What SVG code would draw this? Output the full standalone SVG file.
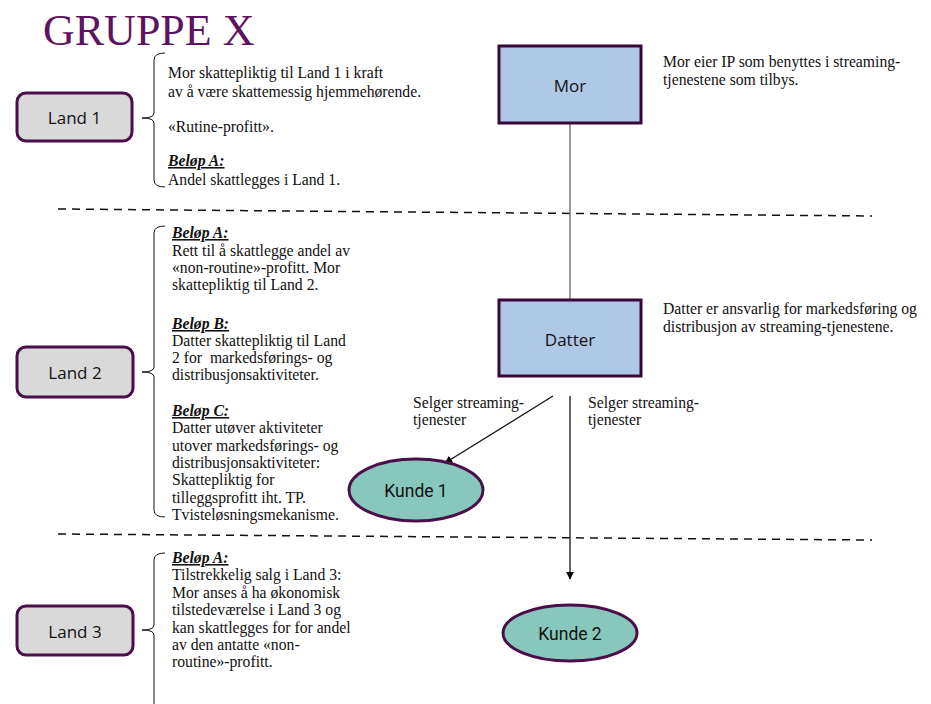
<svg xmlns="http://www.w3.org/2000/svg" width="931" height="704" viewBox="0 0 931 704">
<defs>
<marker id="ah" viewBox="0 0 10 10" refX="9" refY="5" markerWidth="8" markerHeight="8" markerUnits="userSpaceOnUse" orient="auto">
<path d="M0,0 L10,5 L0,10 Z" fill="#000"/>
</marker>
<style>
.t{font-family:"Liberation Serif","Times New Roman",serif;font-size:15.7px;fill:#111}
.s{font-family:"Liberation Serif","Times New Roman",serif;font-size:15.7px;fill:#111}
.b{font-weight:bold;font-style:italic;text-decoration:underline}
.land{fill:#d9d9d9;stroke:#4a0e48;stroke-width:3}
.box{fill:#b0c8e8;stroke:#3a0838;stroke-width:3}
.kunde{fill:#88c8bc;stroke:#4a0e48;stroke-width:3}
.lbl{font-family:"Open Sans","Liberation Sans",sans-serif;font-size:17px;fill:#111;text-anchor:middle;dominant-baseline:central}
.klbl{font-family:Roboto,"Liberation Sans",sans-serif;font-size:17.5px;fill:#111;text-anchor:middle;dominant-baseline:central}
.brace{fill:none;stroke:#111;stroke-width:1}
.dash{stroke:#111;stroke-width:1.5;stroke-dasharray:8,6;fill:none}
</style>
</defs>
<rect width="931" height="704" fill="#fff"/>
<text x="43" y="45" font-family="Liberation Serif,serif" font-size="44" fill="#5e1360">GRUPPE X</text>

<g id="dividers">
<path class="dash" d="M58,209 L872,216"/>
<path class="dash" d="M58,534 L872,540"/>
</g>

<g id="land1">
<rect class="land" x="17" y="93" width="115" height="48" rx="9"/>
<text class="lbl" x="74.5" y="117">Land 1</text>
<path class="brace" d="M165,53 Q154,53 154,60 L154,113 Q154,118 142,118 Q154,118 154,123 L154,180 Q154,187 165,187"/>
<text class="t" x="168" y="78">Mor skattepliktig til Land 1 i kraft</text>
<text class="t" x="168" y="97">av å være skattemessig hjemmehørende.</text>
<text class="t" x="168" y="132">«Rutine-profitt».</text>
<text class="t b" x="168" y="166">Beløp A:</text>
<text class="t" x="168" y="185">Andel skattlegges i Land 1.</text>
</g>

<g id="land2">
<rect class="land" x="17" y="347" width="116" height="50" rx="9"/>
<text class="lbl" x="75" y="372">Land 2</text>
<path class="brace" d="M165,226 Q154,226 154,233 L154,367 Q154,372 142,372 Q154,372 154,377 L154,510 Q154,517 165,517"/>
<g class="t">
<text class="b" x="172" y="238">Beløp A:</text>
<text x="172" y="256">Rett til å skattlegge andel av</text>
<text x="172" y="273">«non-routine»-profitt. Mor</text>
<text x="172" y="290">skattepliktig til Land 2.</text>
<text class="b" x="172" y="329">Beløp B:</text>
<text x="172" y="346">Datter skattepliktig til Land</text>
<text x="172" y="363" xml:space="preserve">2 for  markedsførings- og</text>
<text x="172" y="380">distribusjonsaktiviteter.</text>
<text class="b" x="172" y="416">Beløp C:</text>
<text x="172" y="433">Datter utøver aktiviteter</text>
<text x="172" y="451">utover markedsførings- og</text>
<text x="172" y="468">distribusjonsaktiviteter:</text>
<text x="172" y="485">Skattepliktig for</text>
<text x="172" y="503">tilleggsprofitt iht. TP.</text>
<text x="172" y="520">Tvisteløsningsmekanisme.</text>
</g>
</g>

<g id="land3">
<rect class="land" x="17" y="606" width="116" height="49" rx="9"/>
<text class="lbl" x="75" y="631">Land 3</text>
<path class="brace" d="M165,553 Q154,553 154,560 L154,625 Q154,630 142,630 Q154,630 154,635 L154,704"/>
<g class="t">
<text class="b" x="172" y="563">Beløp A:</text>
<text x="172" y="580">Tilstrekkelig salg i Land 3:</text>
<text x="172" y="598">Mor anses å ha økonomisk</text>
<text x="172" y="615">tilstedeværelse i Land 3 og</text>
<text x="172" y="633">kan skattlegges for for andel</text>
<text x="172" y="650">av den antatte «non-</text>
<text x="172" y="667">routine»-profitt.</text>
</g>
</g>

<g id="connectors">
<line x1="570" y1="124" x2="570" y2="299" stroke="#777" stroke-width="1.5"/>
<line x1="553" y1="396" x2="445" y2="463" stroke="#111" stroke-width="1.3" marker-end="url(#ah)"/>
<line x1="570" y1="396" x2="570" y2="579" stroke="#333" stroke-width="1.5" marker-end="url(#ah)"/>
<text class="s" x="413" y="408">Selger streaming-</text>
<text class="s" x="413" y="425">tjenester</text>
<text class="s" x="588" y="408">Selger streaming-</text>
<text class="s" x="588" y="425">tjenester</text>
</g>

<g id="mor">
<rect class="box" x="499" y="46" width="142" height="77"/>
<text class="lbl" x="570" y="85">Mor</text>
<text class="s" x="663" y="67">Mor eier IP som benyttes i streaming-</text>
<text class="s" x="663" y="85">tjenestene som tilbys.</text>
</g>

<g id="datter">
<rect class="box" x="499" y="300" width="142" height="76"/>
<text class="lbl" x="570" y="339">Datter</text>
<text class="s" x="663" y="314">Datter er ansvarlig for markedsføring og</text>
<text class="s" x="663" y="332">distribusjon av streaming-tjenestene.</text>
</g>

<g id="kunde1">
<ellipse class="kunde" cx="416" cy="490" rx="67" ry="31"/>
<text class="klbl" x="416" y="491">Kunde 1</text>
</g>

<g id="kunde2">
<ellipse class="kunde" cx="570" cy="633" rx="67" ry="28"/>
<text class="klbl" x="570" y="634">Kunde 2</text>
</g>
</svg>
